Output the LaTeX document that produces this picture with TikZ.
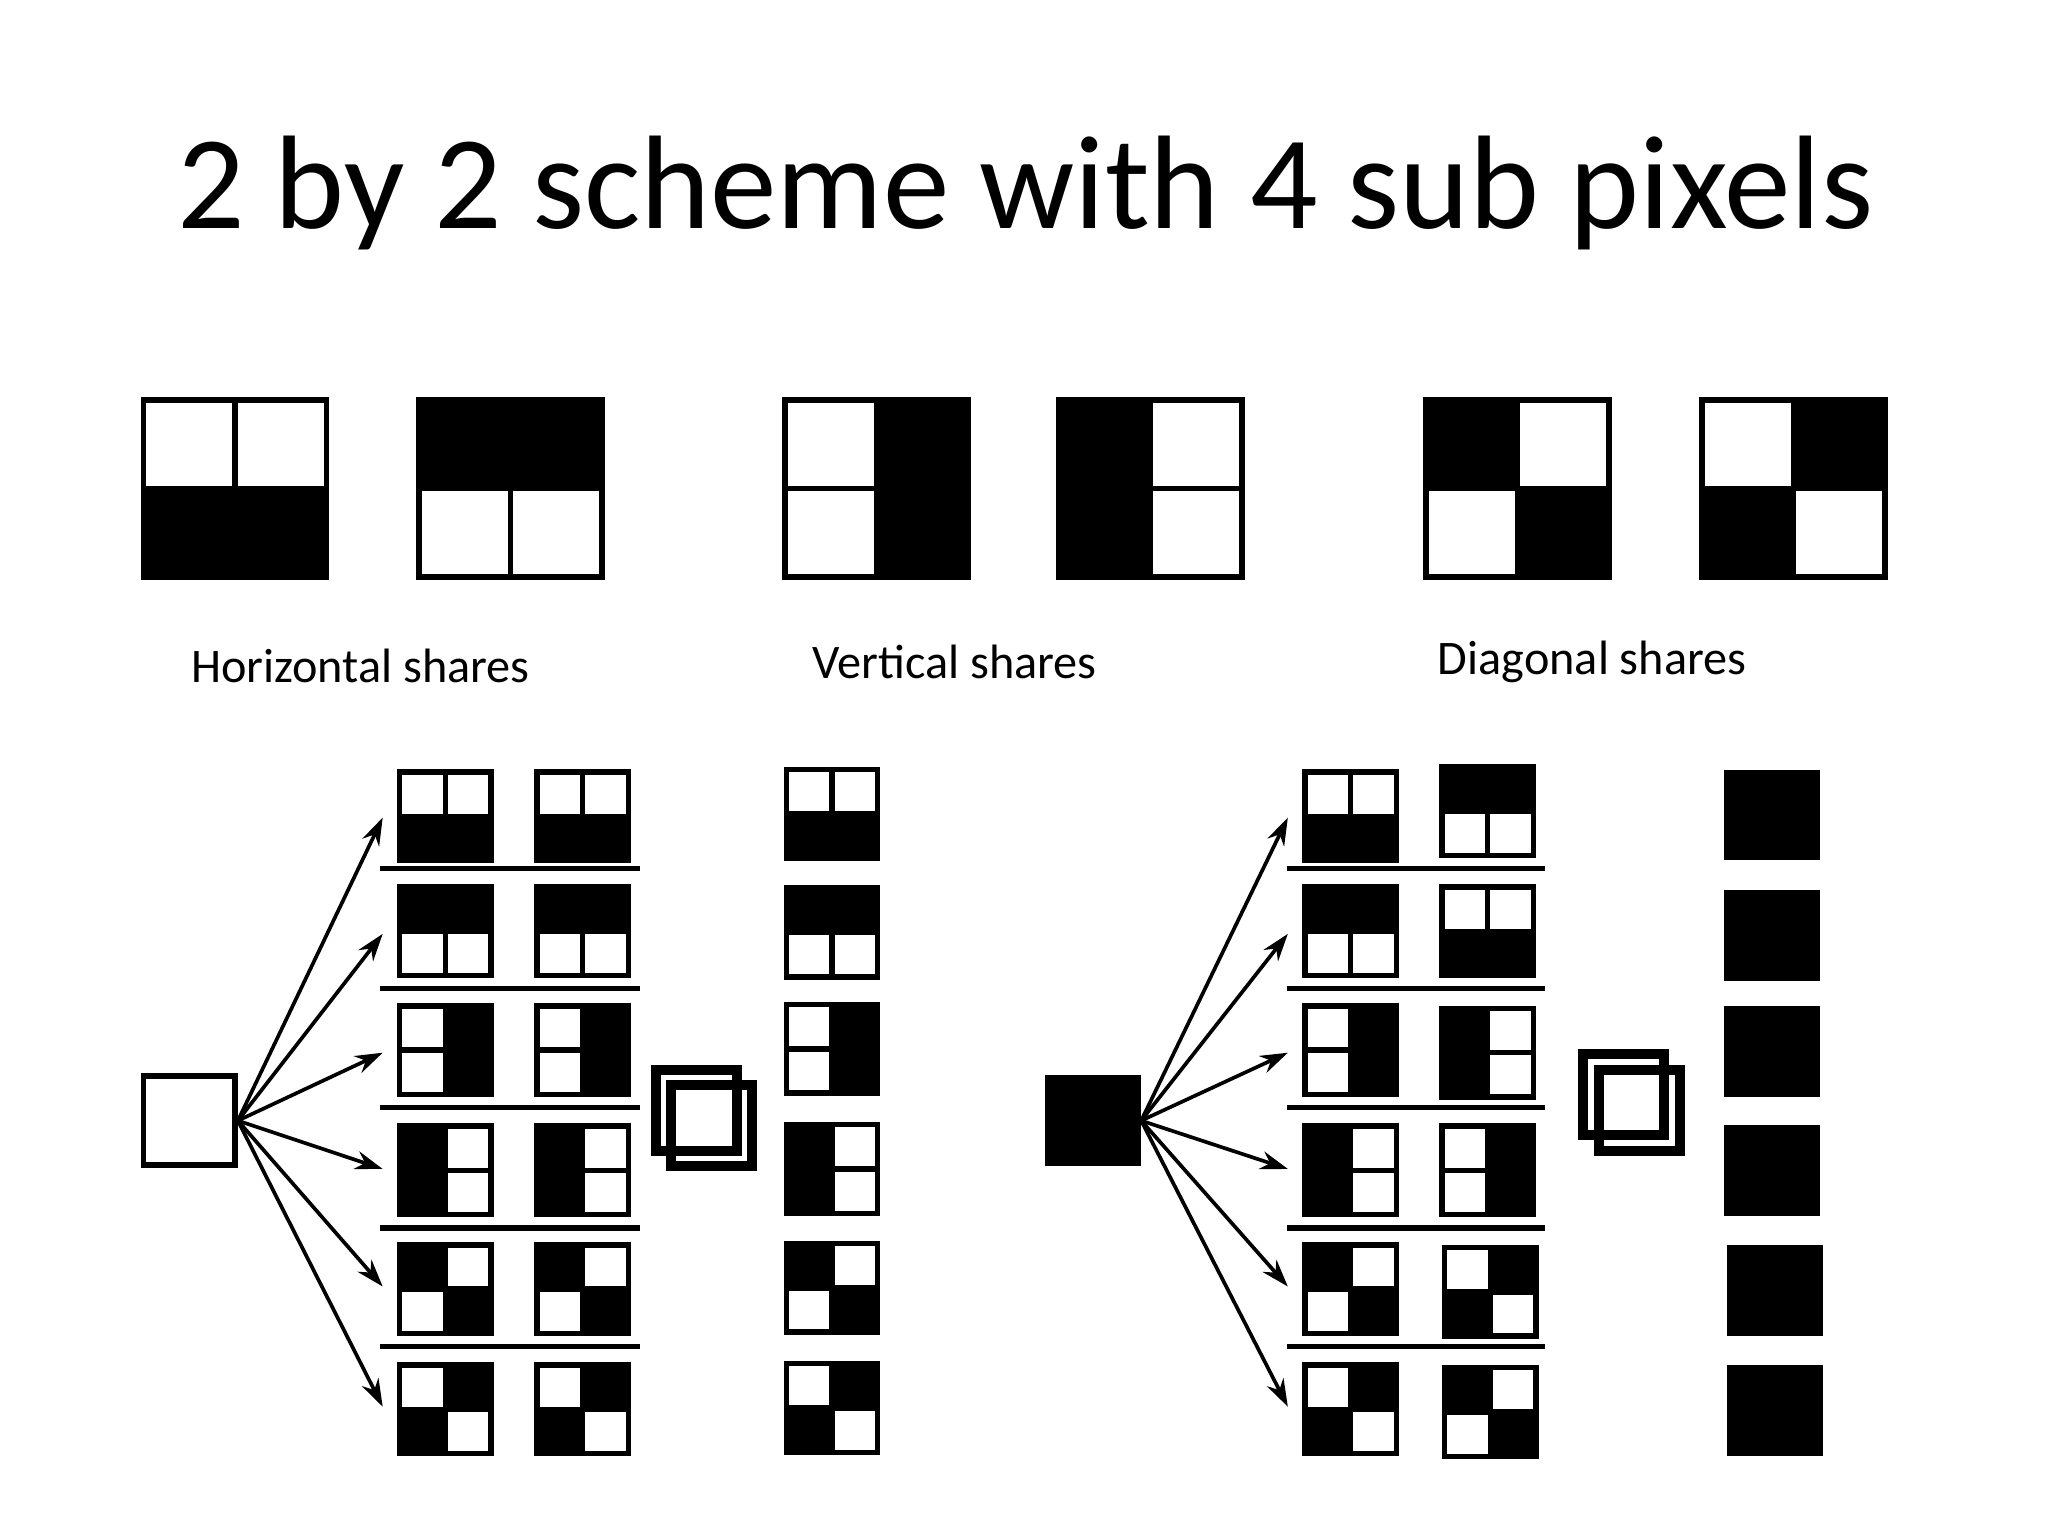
\documentclass[tikz,border=0pt]{standalone}
\usepackage{fontspec}
\setmainfont{Carlito}
\usetikzlibrary{arrows.meta}
\newcommand\pix[8]{%
  \node[draw,line width=1.2pt,minimum width=#4,minimum height=#4*0.97,inner sep=0,outer sep=0] (#1) at (#2,#3) {};
  \ifnum#5=1 \fill (#1.north west) rectangle (#1.center);\fi
  \ifnum#6=1 \fill (#1.north east) rectangle (#1.center);\fi
  \ifnum#7=1 \fill (#1.south west) rectangle (#1.center);\fi
  \ifnum#8=1 \fill (#1.south east) rectangle (#1.center);\fi
  \draw[line width=1.2pt] (#1.north) -- (#1.south) (#1.west) -- (#1.east);
}
\begin{document}
\begin{tikzpicture}[x=0.01cm,y=-0.01cm,
  arr/.style={-{Stealth[length=6pt,width=4pt]},line width=0.8pt},
  sep/.style={line width=1.2pt},
  ovl/.style={draw,line width=2.2pt,minimum size=1.75cm,inner sep=0},
  lab/.style={font=\fontsize{10.5pt}{12pt}\selectfont}]
\useasboundingbox (0,0) rectangle (1568,1176);
\node[font=\fontsize{29pt}{34pt}\selectfont] (title) at (785,148) {2 by 2 scheme with 4 sub pixels};
% top row
\pix{t1}{180}{374}{1.4cm}{0}{0}{1}{1}
\pix{t2}{391}{374}{1.4cm}{1}{1}{0}{0}
\pix{t3}{671}{374}{1.4cm}{0}{1}{0}{1}
\pix{t4}{881}{374}{1.4cm}{1}{0}{1}{0}
\pix{t5}{1162}{374}{1.4cm}{1}{0}{0}{1}
\pix{t6}{1373}{374}{1.4cm}{0}{1}{1}{0}
\node[lab] (l1) at (276,510) {Horizontal shares};
\node[lab] (l2) at (731,507) {Vertical shares};
\node[lab] (l3) at (1219,507) {Diagonal shares};
% bottom left
\node[draw,line width=1.2pt,minimum width=0.7cm,minimum height=0.68cm,inner sep=0] (w) at (145,858) {};
\foreach \i/\y in {1/626,2/715,3/806,4/895,5/985,6/1077} {
  \coordinate (a\i) at (293,\y);
  \draw[arr] (w.east) -- (a\i);
  \coordinate (b\i) at (986,\y);
}
\foreach \y in {665,757,848,940,1031} {
  \coordinate (sl\y) at (291,\y); \coordinate (sr\y) at (490,\y);
  \draw[sep] (sl\y) -- (sr\y);
  \coordinate (ql\y) at (985,\y); \coordinate (qr\y) at (1183,\y);
  \draw[sep] (ql\y) -- (qr\y);
}
\foreach \c/\x in {A/341,B/446} {
  \pix{L\c1}{\x}{625}{0.7cm}{0}{0}{1}{1}
  \pix{L\c2}{\x}{713}{0.7cm}{1}{1}{0}{0}
  \pix{L\c3}{\x}{804}{0.7cm}{0}{1}{0}{1}
  \pix{L\c4}{\x}{896}{0.7cm}{1}{0}{1}{0}
  \pix{L\c5}{\x}{987}{0.7cm}{1}{0}{0}{1}
  \pix{L\c6}{\x}{1079}{0.7cm}{0}{1}{1}{0}
}
\node[ovl,minimum size=0.62cm] (o1) at (533,850) {};
\node[ovl,minimum size=0.62cm] (o2) at (545,862) {};
\pix{R1}{637}{623}{0.7cm}{0}{0}{1}{1}
\pix{R2}{637}{714}{0.7cm}{1}{1}{0}{0}
\pix{R3}{637}{803}{0.7cm}{0}{1}{0}{1}
\pix{R4}{637}{895}{0.7cm}{1}{0}{1}{0}
\pix{R5}{637}{986}{0.7cm}{1}{0}{0}{1}
\pix{R6}{637}{1078}{0.7cm}{0}{1}{1}{0}
% bottom right
\node[fill,draw,minimum width=0.72cm,minimum height=0.68cm,inner sep=0] (k) at (837,858) {};
\foreach \i in {1,...,6} \draw[arr] (k.east) -- (b\i);
\pix{MA1}{1034}{625}{0.7cm}{0}{0}{1}{1}
\pix{MA2}{1034}{713}{0.7cm}{1}{1}{0}{0}
\pix{MA3}{1034}{804}{0.7cm}{0}{1}{0}{1}
\pix{MA4}{1034}{896}{0.7cm}{1}{0}{1}{0}
\pix{MA5}{1034}{987}{0.7cm}{1}{0}{0}{1}
\pix{MA6}{1034}{1079}{0.7cm}{0}{1}{1}{0}
\pix{MB1}{1139}{621}{0.7cm}{1}{1}{0}{0}
\pix{MB2}{1139}{713}{0.7cm}{0}{0}{1}{1}
\pix{MB3}{1139}{806}{0.7cm}{1}{0}{1}{0}
\pix{MB4}{1139}{896}{0.7cm}{0}{1}{0}{1}
\pix{MB5}{1141}{989}{0.7cm}{0}{1}{1}{0}
\pix{MB6}{1141}{1081}{0.7cm}{1}{0}{0}{1}
\node[ovl,minimum size=0.62cm] (o3) at (1243,838) {};
\node[ovl,minimum size=0.62cm] (o4) at (1255,850) {};
\foreach \i/\x/\y in {1/1357/624,2/1357/716,3/1357/805,4/1357/896,5/1359/988,6/1359/1080}
  \node[fill,draw,minimum width=0.72cm,minimum height=0.68cm,inner sep=0] (K\i) at (\x,\y) {};
\end{tikzpicture}
\end{document}
